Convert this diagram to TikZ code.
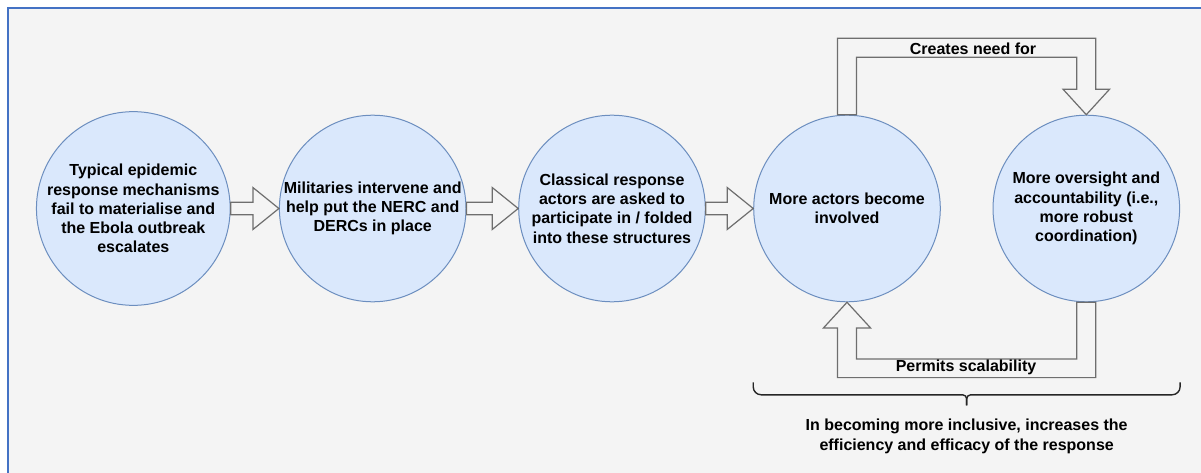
\documentclass[tikz,border=0pt]{standalone}
\usepackage{fontspec}
\setmainfont{Liberation Sans}
\usetikzlibrary{calc}
\definecolor{bubble}{HTML}{DAE8FC}
\definecolor{bubbleline}{HTML}{6C8EBF}
\definecolor{panel}{HTML}{F4F4F4}
\definecolor{frame}{HTML}{4472C4}
\definecolor{arrowline}{HTML}{6E6E6E}

\begin{document}
\begin{tikzpicture}[x=1pt,y=-1pt,
  stage/.style={circle,fill=bubble,draw=bubbleline,line width=1pt,
    minimum size=186.6pt,inner sep=0pt,align=center,
    font=\bfseries\fontsize{16}{19.2}\selectfont},
  blk/.style={draw=arrowline,fill=panel,line width=1.2pt,line join=miter},
  lbl/.style={font=\bfseries\fontsize{16}{19.2}\selectfont,inner sep=0pt,align=center},
  bracket/.style={draw=black!85,line width=1.4pt}]

\clip (0,0) rectangle (1201,473);
\fill[white] (0,0) rectangle (1201,473);
\draw[frame,fill=panel,line width=2pt] (8,8) rectangle (1230,500);

% the five stages
\node[stage] (c1) at (133.3,208.5) {Typical epidemic\\response mechanisms\\fail to materialise and\\the Ebola outbreak\\escalates};
\node[stage] (c2) at (372.7,208.5) {Militaries intervene and\\help put the NERC and\\DERCs in place};
\node[stage] (c3) at (612,208.5) {Classical response\\actors are asked to\\participate in / folded\\into these structures};
\node[stage] (c4) at (847,208.5) {More actors become\\involved};
\node[stage] (c5) at (1086.3,208.5) {More oversight and\\accountability (i.e.,\\more robust\\coordination)};

% straight block arrows
\foreach \a/\b in {c1/c2,c2/c3,c3/c4}
  \draw[blk] ($(\a.east)+(0,-6.3)$) -- ($(\b.west)+(-26,-6.3)$)
    -- ($(\b.west)+(-26,-21)$) -- (\b.west) -- ($(\b.west)+(-26,21)$)
    -- ($(\b.west)+(-26,6.3)$) -- ($(\a.east)+(0,6.3)$) -- cycle;

% loop, top:
\draw[blk] ($(c4.north)+(-9.5,0)$) -- ($(c4.north)+(-9.5,-76.5)$)
  -- ($(c5.north)+(9.5,-76.5)$) -- ($(c5.north)+(9.5,-25.5)$)
  -- ($(c5.north)+(23.3,-25.5)$) -- (c5.north) -- ($(c5.north)+(-23.3,-25.5)$)
  -- ($(c5.north)+(-9.5,-25.5)$) -- ($(c5.north)+(-9.5,-57.5)$)
  -- ($(c4.north)+(9.5,-57.5)$) -- ($(c4.north)+(9.5,0)$) -- cycle;
\node[lbl] (need) at (973,48.3) {Creates need for};

% loop, bottom:
\draw[blk] ($(c5.south)+(-9.5,0)$) -- ($(c5.south)+(-9.5,56.7)$)
  -- ($(c4.south)+(9.5,56.7)$) -- ($(c4.south)+(9.5,25.7)$)
  -- ($(c4.south)+(23.6,25.7)$) -- (c4.south) -- ($(c4.south)+(-23.6,25.7)$)
  -- ($(c4.south)+(-9.5,25.7)$) -- ($(c4.south)+(-9.5,75.3)$)
  -- ($(c5.south)+(9.5,75.3)$) -- ($(c5.south)+(9.5,0)$) -- cycle;
\node[lbl] (scale) at (966,367.5) {Permits scalability};

% brace under the loop
\coordinate (bl) at ($(c4.south -| c4.west)+(0,80)$);
\coordinate (br) at ($(c5.south -| c5.east)+(0,80)$);
\coordinate (bm) at ($(bl)!0.5!(br)$);
\draw[bracket,rounded corners=8pt] (bl) -- ($(bl)+(0,12.5)$)
  [rounded corners=4pt] -- ($(bm)+(0,12.5)$) -- ($(bm)+(0,23)$);
\draw[bracket,rounded corners=8pt] (br) -- ($(br)+(0,12.5)$)
  [rounded corners=4pt] -- ($(bm)+(0,12.5)$) -- ($(bm)+(0,23)$);
\node[lbl] (note) at ($(bm)+(0,54)$) {In becoming more inclusive, increases the\\efficiency and efficacy of the response};
\end{tikzpicture}
\end{document}
